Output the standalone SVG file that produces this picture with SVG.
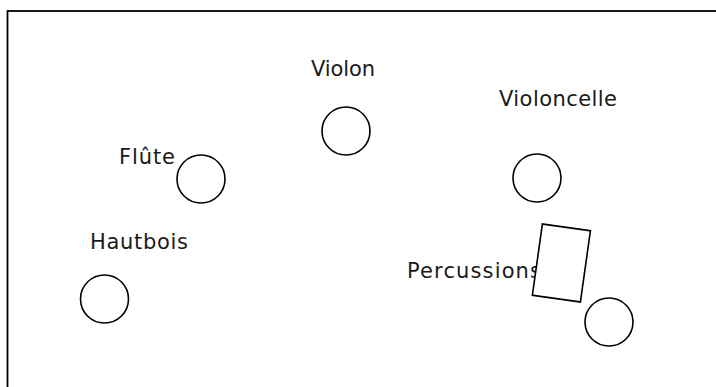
<svg xmlns="http://www.w3.org/2000/svg" width="716" height="387" viewBox="0 0 716 387">
<style>
.n{fill:none;stroke:#000;stroke-width:1.6}
.t{font-family:"DejaVu Sans",sans-serif;font-size:21px;fill:#1a1a1a}
</style>
<rect x="0" y="0" width="716" height="387" fill="#fff"/>
<rect x="7.5" y="11" width="730" height="400" fill="none" stroke="#000" stroke-width="1.8"/>
<g id="violon"><circle class="n" cx="346" cy="131" r="24"/><text class="t" x="311" y="76" textLength="64" lengthAdjust="spacing">Violon</text></g>
<g id="violoncelle"><circle class="n" cx="537" cy="178" r="24"/><text class="t" x="499" y="106" textLength="118" lengthAdjust="spacing">Violoncelle</text></g>
<g id="flute"><circle class="n" cx="201" cy="179" r="24"/><text class="t" x="119" y="164" textLength="56" lengthAdjust="spacing">Flûte</text></g>
<g id="hautbois"><circle class="n" cx="104.5" cy="299" r="24"/><text class="t" x="90" y="249" textLength="98" lengthAdjust="spacing">Hautbois</text></g>
<g id="percussions"><text class="t" x="407" y="278" textLength="134" lengthAdjust="spacing">Percussions</text><rect x="-24.25" y="-36" width="48.5" height="72" transform="translate(561.4 263) rotate(8)" fill="#fff" stroke="#000" stroke-width="1.6"/><circle class="n" cx="609" cy="322" r="24"/></g>
<g id="connectors"></g>
</svg>
